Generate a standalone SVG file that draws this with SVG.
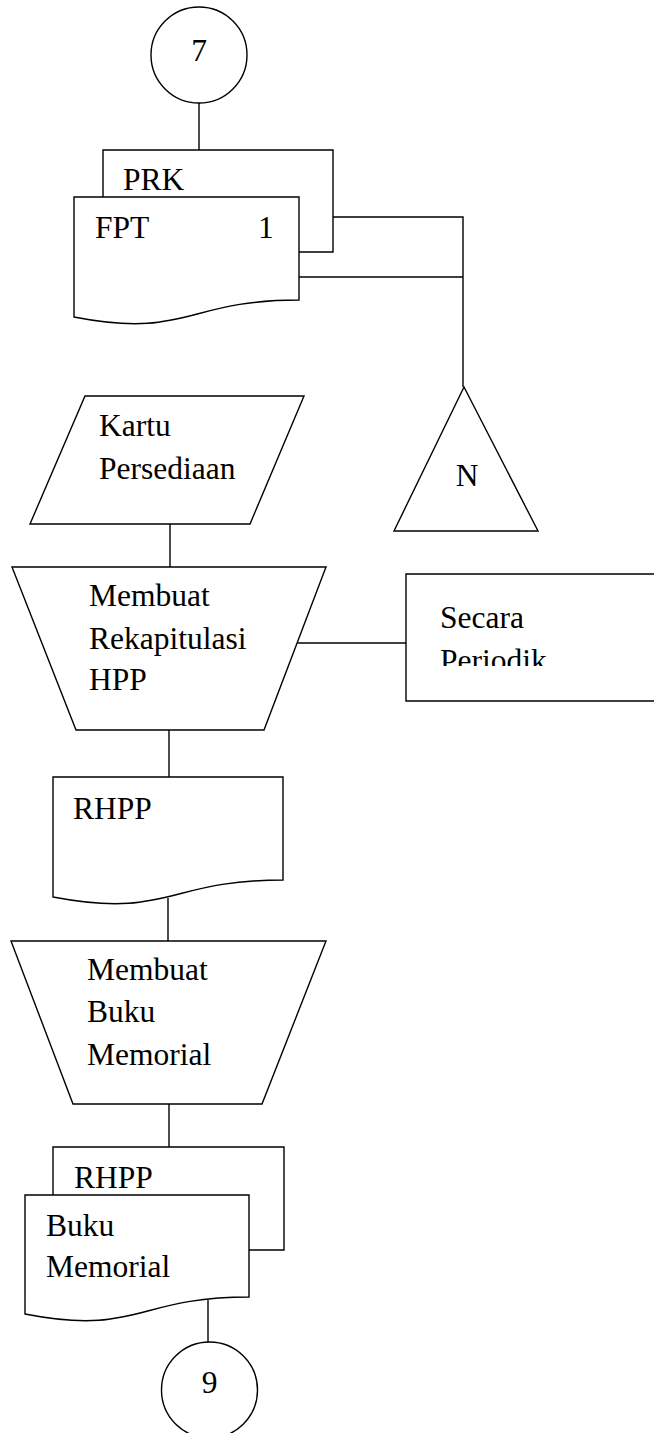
<svg xmlns="http://www.w3.org/2000/svg" width="654" height="1433" viewBox="0 0 654 1433">
<style>
.s{fill:#fff;stroke:#000;stroke-width:1.4}
.l{fill:none;stroke:#000;stroke-width:1.4}
text{font-family:"Liberation Serif","Times New Roman",serif;font-size:31.5px;fill:#000}
</style>
<defs>
<clipPath id="secClip"><rect x="406" y="574" width="248" height="92"/></clipPath>
</defs>
<rect width="654" height="1433" fill="#fff"/>
<g id="connectors">
<line class="l" x1="199" y1="103" x2="199" y2="150"/>
<polyline class="l" points="333,217 463,217 463,387"/>
<line class="l" x1="299" y1="277" x2="463" y2="277"/>
<line class="l" x1="170" y1="524" x2="170" y2="567"/>
<line class="l" x1="298" y1="643" x2="406" y2="643"/>
<line class="l" x1="169" y1="730" x2="169" y2="777"/>
<line class="l" x1="168" y1="898" x2="168" y2="941"/>
<line class="l" x1="169" y1="1104" x2="169" y2="1147"/>
<line class="l" x1="208" y1="1300" x2="208" y2="1342"/>
</g>
<g id="conn7">
<circle class="s" cx="199" cy="55" r="48"/>
<text x="199" y="61" text-anchor="middle">7</text>
</g>
<g id="docPRK">
<polyline class="l" points="103,197 103,150 333,150 333,252 299,252"/>
<text x="123" y="190">PRK</text>
</g>
<g id="docFPT">
<path class="s" d="M74,197 H299 V300 C186.5,300 186.5,339 74,317 Z"/>
<text x="95" y="238">FPT</text>
<text x="258" y="238">1</text>
</g>
<g id="archiveN">
<polygon class="s" points="464,387 538,531 394,531"/>
<text x="467" y="486" text-anchor="middle">N</text>
</g>
<g id="kartu">
<polygon class="s" points="85,396 304,396 250,524 30,524"/>
<text x="99" y="436">Kartu</text>
<text x="99" y="479">Persediaan</text>
</g>
<g id="procRHPP">
<polygon class="s" points="12,567 326,567 264,730 76,730"/>
<text x="89" y="606">Membuat</text>
<text x="89" y="649">Rekapitulasi</text>
<text x="89" y="690">HPP</text>
</g>
<g id="secara">
<polyline class="l" points="654,574 406,574 406,701 654,701"/>
<g clip-path="url(#secClip)">
<text x="440" y="628">Secara</text>
<text x="440" y="671">Periodik</text>
</g>
</g>
<g id="docRHPP">
<path class="s" d="M53,777 H283 V880 C168,880 168,919 53,897 Z"/>
<text x="73" y="819">RHPP</text>
</g>
<g id="procMemorial">
<polygon class="s" points="11,941 326,941 262,1104 73,1104"/>
<text x="87" y="980">Membuat</text>
<text x="87" y="1022">Buku</text>
<text x="87" y="1065">Memorial</text>
</g>
<g id="docRHPP2">
<polyline class="l" points="53,1195 53,1147 284,1147 284,1250 249,1250"/>
<text x="74" y="1188">RHPP</text>
</g>
<g id="docBukuMemorial">
<path class="s" d="M25,1195 H249 V1297 C137,1297 137,1336 25,1314 Z"/>
<text x="46" y="1236">Buku</text>
<text x="46" y="1277">Memorial</text>
</g>
<g id="conn9">
<circle class="s" cx="209.5" cy="1390" r="48"/>
<text x="209.5" y="1393" text-anchor="middle">9</text>
</g>
</svg>
